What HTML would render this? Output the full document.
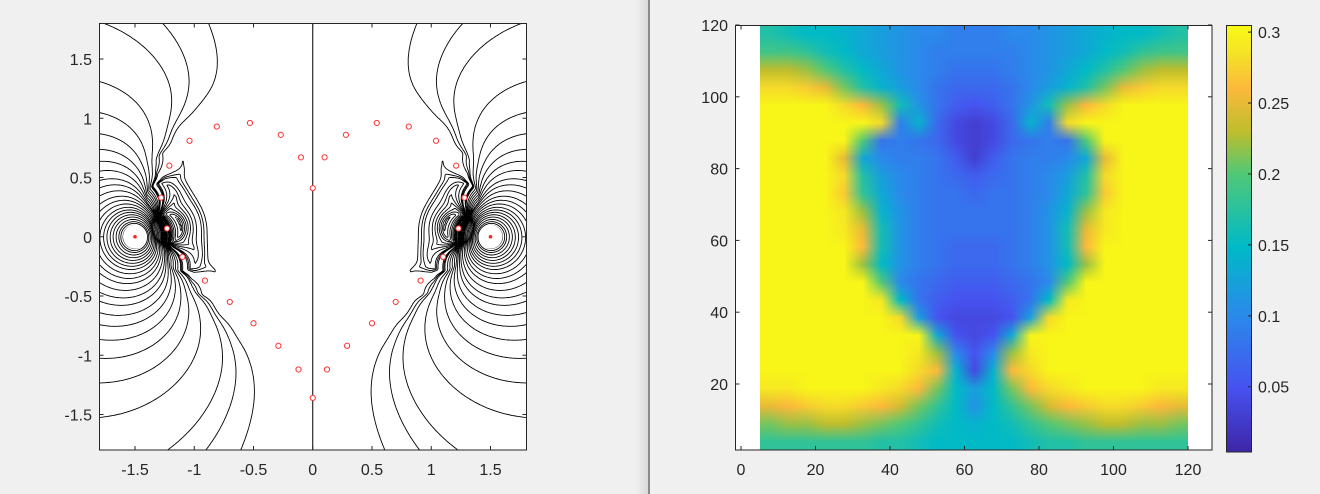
<!DOCTYPE html>
<html><head><meta charset="utf-8"><style>
html,body{margin:0;padding:0;background:#f0f0f0;width:1320px;height:494px;overflow:hidden;font-family:"Liberation Sans",Arial,sans-serif;}
#root{position:relative;width:1320px;height:494px;}
svg text{font-family:"Liberation Sans",Arial,sans-serif;font-size:16px;fill:#262626;}
</style></head><body>
<div id="root">
<div style="position:absolute;left:636px;top:0;width:12px;height:494px;background:linear-gradient(to right,#f0f0f0,#dadada);"></div>
<div style="position:absolute;left:648px;top:0;width:2px;height:494px;background:#8a8a8a;"></div>
<svg id="left" width="640" height="494" style="position:absolute;left:0;top:0"></svg>
<canvas id="heat" width="23" height="24" style="position:absolute;left:760px;top:25px;width:428px;height:425px;"></canvas>
<canvas id="cbar" width="1" height="200" style="position:absolute;left:1226px;top:25px;width:25px;height:427px;"></canvas>
<svg id="right" width="1320" height="494" style="position:absolute;left:0;top:0;pointer-events:none"></svg>
</div>
<script>
// ---------- Left chart data ----------
const sourceX = [-1.5, 1.5];
const sourceQ = [-1, 1];
const contourLevels = [0.06,0.09,0.12,0.2,0.28,0.37,0.47,0.58,0.7,0.85,1,1.2,1.45,1.7,2,2.35,2.7,3.1,3.6,4.2,5,6,7,8.5];
const heartX = [0,-0.1,0.1,-0.27,0.28,-0.53,0.54,-0.81,0.81,-1.04,1.04,-1.21,1.21,-1.28,1.28,-1.23,1.23,-1.1,1.1,-0.91,0.91,-0.7,0.7,-0.5,0.5,-0.29,0.29,-0.12,0.12,0];
const heartY = [0.41,0.67,0.67,0.86,0.86,0.96,0.96,0.93,0.93,0.81,0.81,0.6,0.6,0.33,0.33,0.07,0.07,-0.17,-0.17,-0.37,-0.37,-0.55,-0.55,-0.73,-0.73,-0.92,-0.92,-1.12,-1.12,-1.36];
const leftTicks = [-1.5,-1,-0.5,0,0.5,1,1.5];
const leftTickLabels = ["-1.5","-1","-0.5","0","0.5","1","1.5"];

// ---------- Right chart data ----------
const heatRows = [
[0.17,0.16,0.15,0.15,0.14,0.13,0.12,0.11,0.1,0.1,0.09,0.09,0.09,0.1,0.1,0.11,0.12,0.13,0.14,0.15,0.15,0.16,0.17],
[0.19,0.19,0.18,0.16,0.15,0.13,0.12,0.11,0.1,0.09,0.09,0.09,0.09,0.09,0.1,0.11,0.12,0.13,0.15,0.16,0.18,0.19,0.19],
[0.23,0.23,0.22,0.2,0.17,0.15,0.13,0.11,0.1,0.09,0.08,0.08,0.08,0.09,0.1,0.11,0.13,0.15,0.17,0.2,0.22,0.23,0.23],
[0.28,0.28,0.27,0.25,0.21,0.17,0.14,0.12,0.1,0.08,0.07,0.07,0.07,0.08,0.1,0.12,0.14,0.17,0.21,0.25,0.27,0.28,0.28],
[0.3,0.3,0.3,0.3,0.28,0.26,0.22,0.16,0.11,0.08,0.06,0.05,0.06,0.08,0.11,0.16,0.22,0.26,0.28,0.3,0.3,0.3,0.3],
[0.3,0.3,0.3,0.3,0.3,0.3,0.28,0.09,0.14,0.07,0.04,0.03,0.04,0.07,0.14,0.09,0.28,0.3,0.3,0.3,0.3,0.3,0.3],
[0.3,0.3,0.3,0.3,0.3,0.2,0.08,0.09,0.08,0.07,0.04,0.03,0.04,0.07,0.08,0.09,0.08,0.2,0.3,0.3,0.3,0.3,0.3],
[0.3,0.3,0.3,0.3,0.25,0.13,0.1,0.09,0.09,0.08,0.06,0.03,0.06,0.08,0.09,0.09,0.1,0.13,0.25,0.3,0.3,0.3,0.3],
[0.3,0.3,0.3,0.3,0.28,0.17,0.12,0.1,0.09,0.08,0.07,0.06,0.07,0.08,0.09,0.1,0.12,0.17,0.28,0.3,0.3,0.3,0.3],
[0.3,0.3,0.3,0.3,0.27,0.18,0.13,0.1,0.09,0.08,0.08,0.07,0.08,0.08,0.09,0.1,0.13,0.18,0.27,0.3,0.3,0.3,0.3],
[0.3,0.3,0.3,0.3,0.29,0.22,0.14,0.11,0.09,0.08,0.08,0.08,0.08,0.08,0.09,0.11,0.14,0.22,0.29,0.3,0.3,0.3,0.3],
[0.3,0.3,0.3,0.3,0.29,0.25,0.16,0.11,0.09,0.08,0.08,0.08,0.08,0.08,0.09,0.11,0.16,0.25,0.29,0.3,0.3,0.3,0.3],
[0.3,0.3,0.3,0.3,0.3,0.26,0.16,0.11,0.09,0.08,0.07,0.07,0.07,0.08,0.09,0.11,0.16,0.26,0.3,0.3,0.3,0.3,0.3],
[0.3,0.3,0.3,0.3,0.3,0.22,0.15,0.11,0.09,0.08,0.07,0.07,0.07,0.08,0.09,0.11,0.15,0.22,0.3,0.3,0.3,0.3,0.3],
[0.3,0.3,0.3,0.3,0.3,0.3,0.2,0.1,0.08,0.07,0.06,0.06,0.06,0.07,0.08,0.1,0.2,0.3,0.3,0.3,0.3,0.3,0.3],
[0.3,0.3,0.3,0.3,0.3,0.3,0.29,0.15,0.08,0.06,0.05,0.05,0.05,0.06,0.08,0.15,0.29,0.3,0.3,0.3,0.3,0.3,0.3],
[0.3,0.3,0.3,0.3,0.3,0.3,0.3,0.28,0.12,0.05,0.04,0.04,0.04,0.05,0.12,0.28,0.3,0.3,0.3,0.3,0.3,0.3,0.3],
[0.3,0.3,0.3,0.3,0.3,0.3,0.3,0.3,0.3,0.13,0.05,0.04,0.05,0.13,0.3,0.3,0.3,0.3,0.3,0.3,0.3,0.3,0.3],
[0.3,0.3,0.3,0.3,0.3,0.3,0.3,0.3,0.29,0.22,0.1,0.05,0.1,0.22,0.29,0.3,0.3,0.3,0.3,0.3,0.3,0.3,0.3],
[0.3,0.3,0.3,0.3,0.3,0.3,0.3,0.3,0.28,0.26,0.14,0.04,0.14,0.26,0.28,0.3,0.3,0.3,0.3,0.3,0.3,0.3,0.3],
[0.29,0.29,0.3,0.3,0.3,0.3,0.29,0.28,0.26,0.21,0.15,0.12,0.15,0.21,0.26,0.28,0.29,0.3,0.3,0.3,0.3,0.29,0.29],
[0.25,0.26,0.27,0.28,0.28,0.27,0.26,0.24,0.21,0.18,0.15,0.11,0.15,0.18,0.21,0.24,0.26,0.27,0.28,0.28,0.27,0.26,0.25],
[0.21,0.22,0.22,0.23,0.23,0.22,0.21,0.2,0.18,0.16,0.15,0.14,0.15,0.16,0.18,0.2,0.21,0.22,0.23,0.23,0.22,0.22,0.21],
[0.18,0.18,0.18,0.18,0.18,0.18,0.17,0.17,0.16,0.15,0.15,0.15,0.15,0.15,0.16,0.17,0.17,0.18,0.18,0.18,0.18,0.18,0.18]];
const xTicks = [0,20,40,60,80,100,120];
const yTicks = [20,40,60,80,100,120];
const cbarTicks = [0.05,0.1,0.15,0.2,0.25,0.3];
const cbarLabels = ["0.05","0.1","0.15","0.2","0.25","0.3"];
const cMin = 0.004, cMax = 0.305;

const NS = "http://www.w3.org/2000/svg";
function mk(parent, tag, attrs){const e=document.createElementNS(NS,tag);for(const k in attrs)e.setAttribute(k,attrs[k]);parent.appendChild(e);return e;}

// ---------- Left chart ----------
const L = document.getElementById('left');
const lx = v => 312.75 + v*118.5;
const ly = v => 236.75 - v*118.5;
const bg = mk(L,'rect',{x:99.5,y:23.5,width:427,height:426.5,fill:'#fff'});


mk(L,'clipPath',{id:'lclip'}).appendChild(document.createElementNS(NS,'rect'));
const cr = L.querySelector('#lclip rect');
cr.setAttribute('x',99.5);cr.setAttribute('y',23.5);cr.setAttribute('width',427);cr.setAttribute('height',426.5);
const cg = mk(L,'g',{'clip-path':'url(#lclip)'});


const nH = heartX.length, aReg = 0.12;
const A=[], rhs=[];
for(let j=0;j<nH;j++){A[j]=[];for(let i=0;i<nH;i++){A[j][i]= i===j?1/aReg:1/Math.max(Math.hypot(heartX[j]-heartX[i],heartY[j]-heartY[i]),aReg);}
  let s=0;for(let k=0;k<sourceX.length;k++)s+=sourceQ[k]/Math.hypot(heartX[j]-sourceX[k],heartY[j]);rhs[j]=-s;}
for(let c=0;c<nH;c++){let p=c;for(let r=c+1;r<nH;r++)if(Math.abs(A[r][c])>Math.abs(A[p][c]))p=r;
  [A[c],A[p]]=[A[p],A[c]];[rhs[c],rhs[p]]=[rhs[p],rhs[c]];
  for(let r=c+1;r<nH;r++){const f=A[r][c]/A[c][c];for(let k=c;k<nH;k++)A[r][k]-=f*A[c][k];rhs[r]-=f*rhs[c];}}
const hq=new Array(nH).fill(0);
for(let r=nH-1;r>=0;r--){let s=rhs[r];for(let k=r+1;k<nH;k++)s-=A[r][k]*hq[k];hq[r]=s/A[r][r];}
function pot(x,y){let s=0;for(let i=0;i<sourceX.length;i++){s+=sourceQ[i]/Math.max(Math.hypot(x-sourceX[i],y),1e-6);}
  for(let i=0;i<nH;i++){s+=hq[i]/Math.max(Math.hypot(x-heartX[i],y-heartY[i]),aReg);}return s;}
const N=240, x0=-1.8, x1=1.8, h=(x1-x0)/N;
const F=[];for(let j=0;j<=N;j++){F[j]=[];for(let i=0;i<=N;i++)F[j][i]=pot(x0+i*h,x0+j*h);}
let d='';
const allLevels=[];contourLevels.forEach(l=>{allLevels.push(l);allLevels.push(-l);});
for(const lv of allLevels){
  for(let j=0;j<N;j++)for(let i=0;i<N;i++){
    const a=F[j][i],b=F[j][i+1],c=F[j+1][i+1],e=F[j+1][i];
    const pts=[];
    const edge=(va,vb,xa,ya,xb,yb)=>{if((va-lv)*(vb-lv)<0){const t=(lv-va)/(vb-va);pts.push([xa+(xb-xa)*t,ya+(yb-ya)*t]);}};
    const X=x0+i*h,Y=x0+j*h;
    edge(a,b,X,Y,X+h,Y);edge(b,c,X+h,Y,X+h,Y+h);edge(c,e,X+h,Y+h,X,Y+h);edge(e,a,X,Y+h,X,Y);
    for(let k=0;k+1<pts.length;k+=2)d+='M'+lx(pts[k][0]).toFixed(1)+' '+ly(pts[k][1]).toFixed(1)+'L'+lx(pts[k+1][0]).toFixed(1)+' '+ly(pts[k+1][1]).toFixed(1);
  }
}
const zl = mk(cg,'line',{x1:lx(0),y1:ly(1.8),x2:lx(0),y2:ly(-1.8),stroke:'#000','stroke-width':1});


const cp = mk(cg,'path',{d:d,stroke:'#000','stroke-width':0.9,fill:'none'});


sourceX.forEach(sx=>{
  const w=mk(cg,'circle',{cx:lx(sx),cy:ly(0),r:12,fill:'#fff'});
  
  
  const s=mk(cg,'circle',{cx:lx(sx),cy:ly(0),r:1.8,fill:'#ff2020'});
  
  
});
heartX.forEach((hx,i)=>{
  const m=mk(cg,'circle',{cx:lx(hx),cy:ly(heartY[i]),r:2.6,fill:'#fff',stroke:'#ff3030','stroke-width':1});
  
  
});
const lb=mk(L,'rect',{x:99.5,y:23.5,width:427,height:426.5,fill:'none',stroke:'#262626','stroke-width':1});


leftTicks.forEach((t,i)=>{
  mk(L,'line',{x1:lx(t),y1:450,x2:lx(t),y2:446,stroke:'#262626'});
  mk(L,'line',{x1:lx(t),y1:23.5,x2:lx(t),y2:27.5,stroke:'#262626'});
  mk(L,'line',{x1:99.5,y1:ly(t),x2:103.5,y2:ly(t),stroke:'#262626'});
  mk(L,'line',{x1:526.5,y1:ly(t),x2:522.5,y2:ly(t),stroke:'#262626'});
  const tx=mk(L,'text',{x:lx(t),y:475,'text-anchor':'middle'});tx.textContent=leftTickLabels[i];
  
  
  const ty=mk(L,'text',{x:92,y:ly(t)+6,'text-anchor':'end'});ty.textContent=leftTickLabels[i];
  
  
});

// ---------- Right chart ----------
const stops=[[0,[62,38,168]],[0.15,[71,82,240]],[0.32,[43,138,235]],[0.48,[0,186,200]],[0.65,[80,200,120]],[0.75,[190,190,45]],[0.85,[252,185,60]],[0.93,[245,225,40]],[1,[249,251,20]]];
function cmap(v){let t=(v-cMin)/(cMax-cMin);t=Math.max(0,Math.min(1,t));
  for(let k=1;k<stops.length;k++){if(t<=stops[k][0]){const a=stops[k-1],b=stops[k];const u=(t-a[0])/(b[0]-a[0]);return a[1].map((c,q)=>Math.round(c+(b[1][q]-c)*u));}}return stops[stops.length-1][1];}
const hc=document.getElementById('heat'),hx=hc.getContext('2d');
heatRows.forEach((row,r)=>row.forEach((v,c)=>{const col=cmap(v);hx.fillStyle='rgb('+col.join(',')+')';hx.fillRect(c,r,1,1);}));
const cb=document.getElementById('cbar'),cx=cb.getContext('2d');
for(let i=0;i<200;i++){const v=cMax-(i+0.5)/200*(cMax-cMin);cx.fillStyle='rgb('+cmap(v).join(',')+')';cx.fillRect(0,i,1,1);}
const R=document.getElementById('right');
const rx=v=>741+v*3.725, ry=v=>25+(120-v)*3.59;
const wl=mk(R,'rect',{x:736,y:25,width:24,height:425,fill:'#fff'});


const wr=mk(R,'rect',{x:1188,y:25,width:24,height:425,fill:'#fff'});


const rb=mk(R,'rect',{x:735.5,y:25.5,width:476.5,height:424.5,fill:'none',stroke:'#262626'});


xTicks.forEach(t=>{
  mk(R,'line',{x1:rx(t),y1:450,x2:rx(t),y2:446,stroke:'#262626'});
  mk(R,'line',{x1:rx(t),y1:25.5,x2:rx(t),y2:29.5,stroke:'#262626'});
  const tx=mk(R,'text',{x:rx(t),y:475,'text-anchor':'middle'});tx.textContent=t;
  
  
});
yTicks.forEach(t=>{
  mk(R,'line',{x1:735.5,y1:ry(t),x2:739.5,y2:ry(t),stroke:'#262626'});
  mk(R,'line',{x1:1212,y1:ry(t),x2:1208,y2:ry(t),stroke:'#262626'});
  const ty=mk(R,'text',{x:728,y:ry(t)+6,'text-anchor':'end'});ty.textContent=t;
  
  
});
const cy=v=>452-(v-cMin)/(cMax-cMin)*427;
const cbb=mk(R,'rect',{x:1226.5,y:25.5,width:25,height:426.5,fill:'none',stroke:'#262626'});


cbarTicks.forEach((t,i)=>{
  mk(R,'line',{x1:1251.5,y1:cy(t),x2:1248,y2:cy(t),stroke:'#262626'});
  const tl=mk(R,'text',{x:1258,y:cy(t)+6});tl.textContent=cbarLabels[i];
  
  
});
</script>
</body></html>
